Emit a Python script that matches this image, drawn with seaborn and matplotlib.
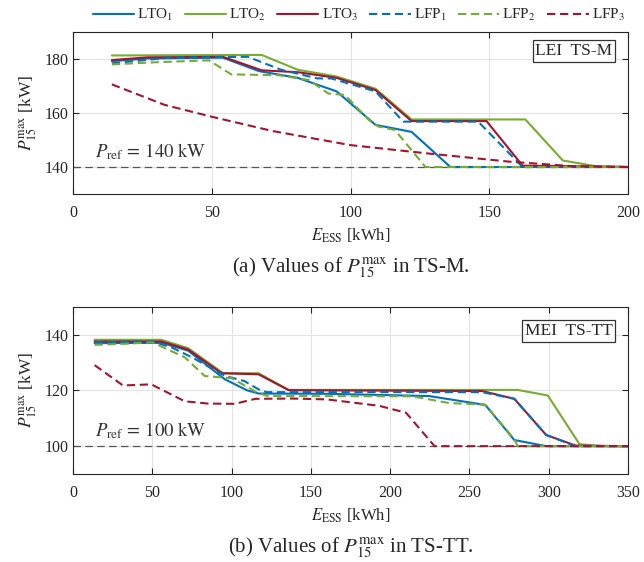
import matplotlib
matplotlib.use("Agg")
import matplotlib.pyplot as plt
import seaborn as sns
import numpy as np
import pandas as pd

# ---- TS-M panel (top) ----
m_lto1_x = [14, 27, 54, 67, 81, 95, 109, 122, 136, 200]
m_lto1_y = [179.2, 180.2, 180.5, 175.5, 173.0, 168.0, 155.6, 153.0, 140.0, 140.0]
m_lto2_x = [14, 68, 81, 95, 109, 122, 163, 176.5, 189, 200]
m_lto2_y = [181.3, 181.5, 176.0, 173.5, 169.0, 157.6, 157.6, 142.4, 140.2, 140.0]
m_lto3_x = [14, 27, 54, 68, 81, 95, 109, 122, 149, 162, 200]
m_lto3_y = [179.6, 180.6, 180.8, 175.8, 175.1, 173.0, 168.5, 157.0, 157.0, 140.5, 140.0]
m_lfp1_x = [14, 35, 63, 75, 88, 93, 109, 119, 146, 162, 200]
m_lfp1_y = [178.4, 180.5, 180.8, 176.0, 172.8, 172.8, 168.0, 156.8, 156.8, 140.0, 140.0]
m_lfp2_x = [14, 30, 49, 57, 74, 85, 92, 98, 106.6, 110, 116, 127, 200]
m_lfp2_y = [178.0, 178.8, 179.5, 174.3, 174.0, 172.2, 167.2, 166.7, 157.4, 155.0, 153.7, 140.0, 140.0]
m_lfp3_x = [14, 33, 50, 72, 100, 128, 157, 180, 200]
m_lfp3_y = [170.6, 163.0, 158.6, 153.3, 148.1, 145.0, 142.0, 140.3, 140.0]

# ---- TS-TT panel (bottom) ----
t_lto1_x = [13.6, 56, 72.6, 95.8, 110, 117, 161, 224.5, 260, 278.3, 298.4, 350]
t_lto1_y = [137.0, 137.1, 134.3, 124.0, 120.0, 118.9, 118.8, 118.0, 114.8, 102.2, 100.0, 100.0]
t_lto2_x = [13.6, 55.7, 72.6, 94.7, 117, 136, 280.4, 299.4, 319.4, 334, 350]
t_lto2_y = [138.2, 138.2, 135.2, 126.2, 126.2, 120.2, 120.2, 118.2, 100.7, 100.0, 100.0]
t_lto3_x = [13.6, 55.7, 72.6, 93.7, 117, 136, 258, 278.3, 298.4, 317, 350]
t_lto3_y = [137.6, 137.6, 134.7, 126.2, 125.8, 120.1, 119.8, 117.0, 104.0, 100.2, 100.0]
t_lfp1_x = [13.6, 50, 62, 75, 96, 108, 117, 122, 258, 278.3, 298.4, 317, 350]
t_lfp1_y = [137.3, 137.6, 135.5, 131.9, 125.2, 123.4, 120.4, 119.4, 119.4, 117.0, 104.0, 100.0, 100.0]
t_lfp2_x = [13.6, 34, 50, 70.5, 83, 100, 117, 123, 214, 237, 260, 278.3, 280.4, 350]
t_lfp2_y = [136.4, 136.8, 137.3, 131.9, 125.2, 124.4, 119.0, 118.0, 117.9, 115.5, 114.9, 102.5, 100.0, 100.0]
t_lfp3_x = [13.6, 31.5, 49.4, 70.5, 85, 102, 115, 138, 160, 193, 210, 222, 228, 350]
t_lfp3_y = [129.1, 121.8, 122.2, 116.1, 115.3, 115.2, 117.0, 117.1, 116.8, 114.5, 112.0, 104.0, 100.0, 100.0]

labels = ["LTO$_1$", "LTO$_2$", "LTO$_3$", "LFP$_1$", "LFP$_2$", "LFP$_3$"]
colors = ["#0072BD", "#77AC30", "#A2142F", "#0072BD", "#77AC30", "#A2142F"]
styles = ["-", "-", "-", "--", "--", "--"]

sns.set_style("ticks")
plt.rcParams["font.family"] = ["Liberation Serif", "DejaVu Serif"]
plt.rcParams["mathtext.fontset"] = "stix"

fig = plt.figure(figsize=(6.44, 5.62), dpi=100)
ax1 = fig.add_axes([0.1134, 0.6548, 0.8618, 0.2883])
ax2 = fig.add_axes([0.1134, 0.1566, 0.8618, 0.2972])


def draw_panel(ax, series, xmax, xstep, ylim, pref, tag, pref_pos, tag_y):
    for (xs, ys), lab, c, ls in zip(series, labels, colors, styles):
        df = pd.DataFrame({"E": xs, "P": ys})
        kw = dict(dashes=(4, 2.2)) if ls == "--" else {}
        sns.lineplot(data=df, x="E", y="P", ax=ax, color=c, lw=1.5,
                     estimator=None, sort=False, label=lab, legend=False, **kw)
    ax.axhline(pref, color="#555555", lw=0.9, dashes=(6, 3.5), zorder=1)
    ax.text(pref_pos[0], pref_pos[1],
            r"$P_{\mathrm{ref}}\,=\,%d\ \mathrm{kW}$" % pref,
            fontsize=13.5, color="#333333", va="center")
    ax.text(0.972, tag_y, tag, transform=ax.transAxes, ha="right", va="center",
            fontsize=12.5,
            bbox=dict(boxstyle="square,pad=0.15", fc="white", ec="#333333", lw=0.9))
    ax.set_xlim(0, xmax)
    ax.set_ylim(*ylim)
    ax.set_xticks(np.arange(0, xmax + 1, xstep))
    ax.set_yticks([ylim[0] + 10, ylim[0] + 30, ylim[0] + 50])
    ax.grid(True, color="#e3e3e3", lw=0.8)
    ax.set_axisbelow(True)
    ax.tick_params(direction="in", top=True, right=True, labelsize=11.5,
                   length=4, color="#262626")
    ax.tick_params(axis="x", pad=8)
    for s in ax.spines.values():
        s.set_color("#262626")
        s.set_linewidth(0.8)
    ax.set_xlabel(r"$E_{\mathrm{ESS}}$ [kWh]", fontsize=12, labelpad=4)
    ax.set_ylabel(r"$P_{15}^{\max}$ [kW]", fontsize=12.5, labelpad=4)


draw_panel(ax1,
           [(m_lto1_x, m_lto1_y), (m_lto2_x, m_lto2_y), (m_lto3_x, m_lto3_y),
            (m_lfp1_x, m_lfp1_y), (m_lfp2_x, m_lfp2_y), (m_lfp3_x, m_lfp3_y)],
           200, 50, (130, 190), 140, "LEI  TS-M", (8, 145.5), 0.883)
draw_panel(ax2,
           [(t_lto1_x, t_lto1_y), (t_lto2_x, t_lto2_y), (t_lto3_x, t_lto3_y),
            (t_lfp1_x, t_lfp1_y), (t_lfp2_x, t_lfp2_y), (t_lfp3_x, t_lfp3_y)],
           350, 50, (90, 150), 100, "MEI  TS-TT", (14, 105.5), 0.856)

handles, labs = ax1.get_legend_handles_labels()
fig.legend(handles, labs, loc="upper center", bbox_to_anchor=(0.557, 1.012),
           ncol=6, frameon=False, fontsize=11, handlelength=2.7,
           handletextpad=0.2, columnspacing=0.75)

fig.text(0.544, 0.523, r"(a) Values of $P_{15}^{\max}$ in TS-M.", ha="center",
         va="center", fontsize=15)
fig.text(0.544, 0.025, r"(b) Values of $P_{15}^{\max}$ in TS-TT.", ha="center",
         va="center", fontsize=15)

fig.savefig("out.png", dpi=100)
